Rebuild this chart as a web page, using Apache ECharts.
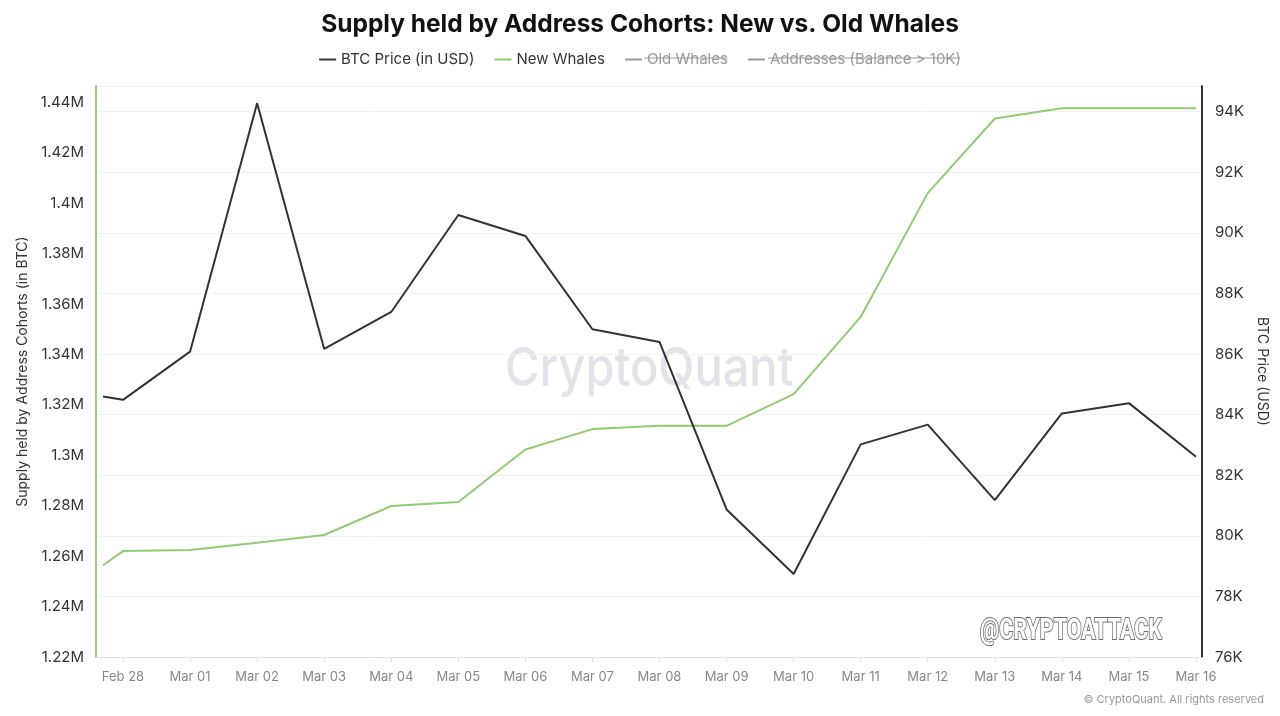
<!DOCTYPE html>
<html>
<head>
<meta charset="utf-8">
<script src="https://cdn.jsdelivr.net/npm/echarts@6/dist/echarts.min.js"></script>
<style>
html,body{margin:0;padding:0;background:#fff;}
#main{width:1280px;height:716px;}
</style>
</head>
<body>
<div id="main"></div>
<script>
// ---- data ----
const dates = ['2025-02-27 16:50','2025-02-28','2025-03-01','2025-03-02','2025-03-03','2025-03-04','2025-03-05','2025-03-06','2025-03-07','2025-03-08','2025-03-09','2025-03-10','2025-03-11','2025-03-12','2025-03-13','2025-03-14','2025-03-15','2025-03-16'];
const btcPrice = [84600, 84490, 86080, 94280, 86170, 87390, 90590, 89900, 86820, 86400, 80870, 78740, 83020, 83670, 81180, 84040, 84380, 82610];
const newWhales = [1256400, 1262000, 1262400, 1265300, 1268400, 1279900, 1281500, 1302300, 1310400, 1311700, 1311700, 1324300, 1354900, 1404000, 1433600, 1437700, 1437700, 1437700];
const oldWhales = [];
const addresses10k = [];
const tickDates = ['2025-02-28','2025-03-01','2025-03-02','2025-03-03','2025-03-04','2025-03-05','2025-03-06','2025-03-07','2025-03-08','2025-03-09','2025-03-10','2025-03-11','2025-03-12','2025-03-13','2025-03-14','2025-03-15','2025-03-16'];
const tickLabels = ['Feb 28','Mar 01','Mar 02','Mar 03','Mar 04','Mar 05','Mar 06','Mar 07','Mar 08','Mar 09','Mar 10','Mar 11','Mar 12','Mar 13','Mar 14','Mar 15','Mar 16'];

const DAY = 86400000;
const t = s => echarts.number.parseDate(s).getTime();
const t0 = t(tickDates[0]);
const day = s => Math.round((t(s) - t0) / DAY * 10000) / 10000;   // days since first tick
const tickDays = tickDates.map(day);
const xMin = -0.4026;
const xMax = tickDays[tickDays.length - 1] + 0.0895;

const FONT = 'Inter';
const chart = echarts.init(document.getElementById('main'), null, {renderer: 'canvas'});
chart.setOption({
  animation: false,
  backgroundColor: '#fff',
  textStyle: {fontFamily: FONT},
  title: {
    text: 'Supply held by Address Cohorts: New vs. Old Whales',
    left: 'center', top: 7,
    textStyle: {fontSize: 24.5, fontWeight: 'bold', color: '#111', fontFamily: FONT}
  },
  legend: {
    top: 47, left: 'center',
    icon: 'rect', itemWidth: 17, itemHeight: 2, itemGap: 20,
    textStyle: {fontSize: 15, color: '#333', fontFamily: FONT},
    inactiveColor: '#999',
    data: ['BTC Price (in USD)', 'New Whales', 'Old Whales', 'Addresses (Balance > 10K)'],
    selected: {'Old Whales': false, 'Addresses (Balance > 10K)': false}
  },
  grid: {left: 96, right: 78, top: 86, bottom: 59, containLabel: false},
  xAxis: {
    type: 'value', min: xMin, max: xMax,
    axisLine: {show: true, lineStyle: {color: '#e3e3e3', width: 1}},
    axisTick: {show: true, customValues: tickDays, length: 5, lineStyle: {color: '#e3e3e3'}},
    axisLabel: {
      customValues: tickDays, color: '#888', fontSize: 13, margin: 14,
      formatter: v => tickLabels[tickDays.indexOf(v)] || ''
    },
    splitLine: {show: false}
  },
  yAxis: [
    {
      type: 'value', position: 'left', min: 1220000, max: 1446500, interval: 20000,
      name: 'Supply held by Address Cohorts (in BTC)', nameLocation: 'middle', nameGap: 66,
      nameTextStyle: {fontSize: 14, color: '#333', fontFamily: FONT},
      axisLine: {show: true, onZero: false, lineStyle: {color: '#9ccf86', width: 2}},
      axisTick: {show: false},
      axisLabel: {color: '#333', fontSize: 15, margin: 12, showMaxLabel: false,
        formatter: v => (+(v / 1e6).toFixed(2)) + 'M'},
      splitLine: {show: false}
    },
    {
      type: 'value', position: 'right', min: 76000, max: 94850, interval: 2000,
      name: 'BTC Price (USD)', nameLocation: 'middle', nameGap: 48, nameRotate: -90,
      nameTextStyle: {fontSize: 14, color: '#333', fontFamily: FONT},
      axisLine: {show: true, onZero: false, lineStyle: {color: '#333', width: 2}},
      axisTick: {show: false},
      axisLabel: {color: '#333', fontSize: 15, margin: 13, showMaxLabel: false,
        formatter: v => (v / 1000) + 'K'},
      splitLine: {show: true, lineStyle: {color: '#f2f2f2', width: 1}}
    }
  ],
  graphic: [
    {type: 'text', x: 505, y: 343, scaleX: 0.87, z: 0, silent: true,
      style: {text: 'CryptoQuant', font: '500 54px Inter', fill: '#e3e3e9'}},
    {type: 'text', x: 980, y: 617, scaleX: 0.74, z: 10, silent: true,
      style: {text: '@CRYPTOATTACK', font: 'bold 29px Roboto', fill: '#ffffff', stroke: '#707070', lineWidth: 2,
        shadowColor: 'rgba(0,0,0,0.35)', shadowBlur: 2, shadowOffsetX: 1, shadowOffsetY: 1}},
    {type: 'text', right: 16, top: 694, silent: true,
      style: {text: '© CryptoQuant. All rights reserved', font: '11px Inter', fill: '#999'}},
    {type: 'line', silent: true, z: 100, shape: {x1: 644, y1: 58, x2: 727, y2: 58}, style: {stroke: '#999', lineWidth: 1.2}},
    {type: 'line', silent: true, z: 100, shape: {x1: 768, y1: 58, x2: 960, y2: 58}, style: {stroke: '#999', lineWidth: 1.2}}
  ],
  series: [
    {name: 'BTC Price (in USD)', type: 'line', yAxisIndex: 1, z: 5,
      data: dates.map((d, i) => [day(d), btcPrice[i]]), showSymbol: false, symbol: 'none',
      lineStyle: {color: '#333333', width: 2}, itemStyle: {color: '#333333'}},
    {name: 'New Whales', type: 'line', yAxisIndex: 0, z: 4,
      data: dates.map((d, i) => [day(d), newWhales[i]]), showSymbol: false, symbol: 'none',
      lineStyle: {color: '#8fcc72', width: 2}, itemStyle: {color: '#8fcc72'}},
    {name: 'Old Whales', type: 'line', yAxisIndex: 0, data: oldWhales, symbol: 'none',
      lineStyle: {color: '#777'}, itemStyle: {color: '#777'}},
    {name: 'Addresses (Balance > 10K)', type: 'line', yAxisIndex: 0, data: addresses10k, symbol: 'none',
      lineStyle: {color: '#777'}, itemStyle: {color: '#777'}}
  ]
});
</script>
</body>
</html>
